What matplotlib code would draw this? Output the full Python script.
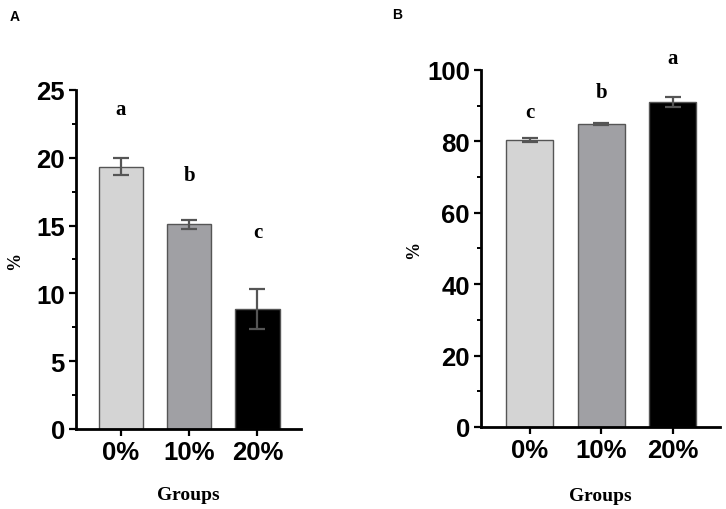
import matplotlib
matplotlib.use("Agg")
import matplotlib.pyplot as plt
from matplotlib.ticker import MultipleLocator

groups = ["0%", "10%", "20%"]
bar_colors = ["#d4d4d4", "#a0a0a4", "#000000"]

# panel A
a_vals = [19.35, 15.08, 8.85]
a_err = [0.65, 0.3, 1.48]
a_letters = ["a", "b", "c"]
a_letter_y = [23.6, 18.7, 14.5]

# panel B
b_vals = [80.4, 84.8, 91.0]
b_err = [0.6, 0.3, 1.5]
b_letters = ["c", "b", "a"]
b_letter_y = [88.2, 93.8, 103.4]

SANS = "Liberation Sans"
SERIF = "Liberation Serif"


def panel(ax, vals, err, letters, letter_y, ymax, major, minor, width):
    x = list(range(len(vals)))
    ax.bar(x, vals, width=width, color=bar_colors, edgecolor="#555555", linewidth=1.0, zorder=2)
    ax.errorbar(x, vals, yerr=err, fmt="none", ecolor="#555555", elinewidth=1.6,
                capsize=5.5, capthick=1.6, zorder=3)
    for xi, lab, ly in zip(x, letters, letter_y):
        ax.text(xi, ly, lab, ha="center", va="center", fontsize=15,
                fontweight="bold", family=SERIF, clip_on=False)
    ax.set_ylim(0, ymax)
    ax.yaxis.set_major_locator(MultipleLocator(major))
    ax.yaxis.set_minor_locator(MultipleLocator(minor))
    ax.set_xticks(x)
    ax.set_xticklabels(groups)
    for side in ("top", "right"):
        ax.spines[side].set_visible(False)
    for side in ("left", "bottom"):
        ax.spines[side].set_linewidth(2.0)
    ax.tick_params(axis="both", which="major", width=1.6, length=5, labelsize=18.5, pad=3)
    ax.tick_params(axis="y", which="minor", width=1.4, length=3)
    for lab in ax.get_xticklabels() + ax.get_yticklabels():
        lab.set_family(SANS)
        lab.set_fontweight("bold")
    ax.set_xlabel("Groups", family=SERIF, fontweight="bold", fontsize=14, labelpad=16)
    ax.set_ylabel("%", family=SERIF, fontweight="bold", fontsize=13)


fig = plt.figure(figsize=(7.26, 5.1), dpi=100)
axA = fig.add_axes([0.1047, 0.1569, 0.31, 0.6647])
axB = fig.add_axes([0.6625, 0.1608, 0.3292, 0.70])

panel(axA, a_vals, a_err, a_letters, a_letter_y, 25, 5, 2.5, 0.65)
axA.set_xlim(-0.66, 2.64)
axA.yaxis.set_label_coords(-0.235, 0.5)

panel(axB, b_vals, b_err, b_letters, b_letter_y, 100, 20, 10, 0.66)
axB.set_xlim(-0.68, 2.66)
axB.yaxis.set_label_coords(-0.245, 0.5)
axB.xaxis.labelpad = 18

fig.text(10 / 726, 1 - 17 / 510, "A", family=SANS, fontweight="bold", fontsize=10, va="center")
fig.text(392 / 726, 1 - 15 / 510, "B", family=SANS, fontweight="bold", fontsize=10, va="center")

fig.savefig("out.png", dpi=100)
